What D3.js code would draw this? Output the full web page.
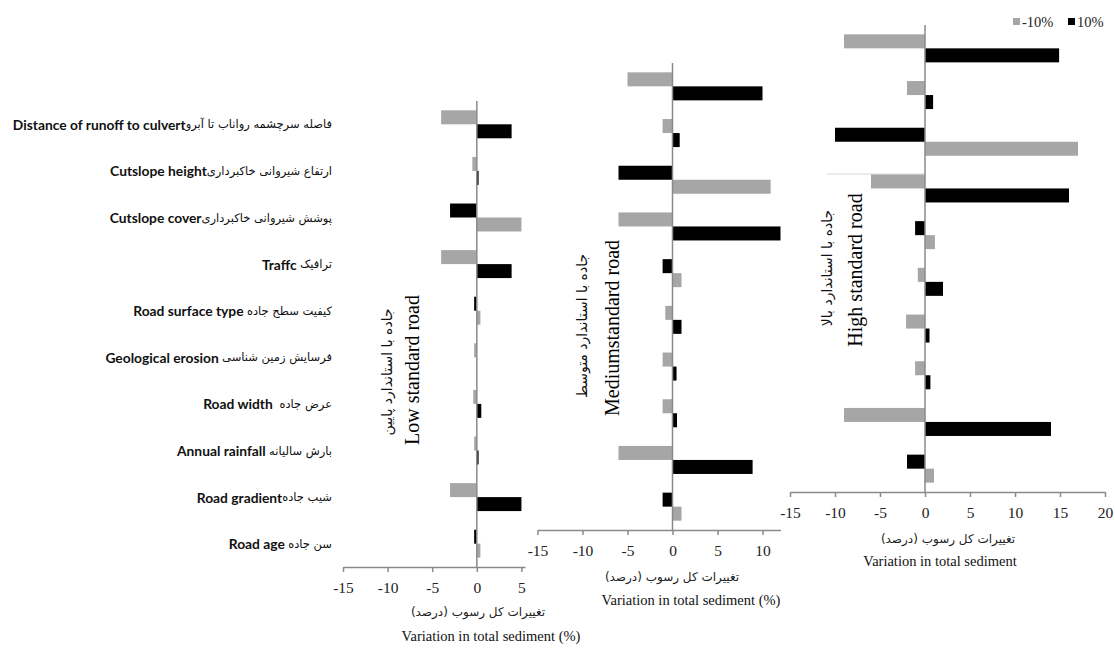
<!DOCTYPE html>
<html><head><meta charset="utf-8">
<script src="https://cdn.jsdelivr.net/npm/d3@7"></script>
<style>body{margin:0;background:#fff} svg{display:block}</style>
</head><body><svg id="c" width="1115" height="650"></svg>
<script>
// ---------- data ----------
const categoriesEn = ["Distance of runoff to culvert", "Cutslope height", "Cutslope cover", "Traffc",
  "Road surface type", "Geological erosion", "Road width", "Annual rainfall", "Road gradient", "Road age"];
const categoriesFa = ["فاصله سرچشمه رواناب تا آبرو", "ارتفاع شیروانی خاکبرداری", "پوشش شیروانی خاکبرداری", "ترافیک",
  "کیفیت سطح جاده", "فرسایش زمین شناسی", "عرض جاده", "بارش سالیانه", "شیب جاده", "سن جاده"];
const labelGap = ["", "", "", " ", " ", " ", "  ", " ", "", " "];
const seriesNames = ["-10%", "10%"];
const seriesColors = ["#a6a6a6", "#000000"];

const lowMinus10  = [-4, -0.5, 5, -4, 0.4, -0.3, -0.4, -0.3, -3, 0.4];
const lowPlus10   = [3.9, 0.2, -3, 3.9, -0.3, 0, 0.5, 0.2, 5, -0.3];
const midMinus10  = [-5, -1.1, 10.9, -6, 1, -0.8, -1.1, -1.1, -6, 1];
const midPlus10   = [10, 0.8, -6, 12, -1.1, 1, 0.45, 0.5, 8.9, -1.1];
const highMinus10 = [-9, -2, 17, -6, 1.1, -0.8, -2.1, -1.1, -9, 1];
const highPlus10  = [14.9, 0.9, -10, 16, -1.1, 2, 0.5, 0.6, 14, -2];

const xTicks = [-15, -10, -5, 0, 5, 10, 15, 20];

const titleFa = "تغییرات کل رسوب (درصد)";
const titleEnPct = "Variation in total sediment (%)";
const titleEn = "Variation in total sediment";
const roadFa = ["جاده با استاندارد پایین", "جاده با استاندارد متوسط", "جاده با استاندارد بالا"];
const roadEn = ["Low standard road", "Mediumstandard road", "High standard road"];

// ---------- layout ----------
const panels = [
  { neg: lowMinus10, pos: lowPlus10, domain: [-15, 5.4], xr: [343, 525], yr: [101, 567],
    fa: roadFa[0], en: roadEn[0], faPos: [387, 372], enPos: [412, 370],
    tFa: [478, 616], tEn: [491, 641], tEnText: titleEnPct, labels: true },
  { neg: midMinus10, pos: midPlus10, domain: [-15, 12], xr: [537.5, 780.5], yr: [63, 530],
    fa: roadFa[1], en: roadEn[1], faPos: [582, 326], enPos: [612, 328],
    tFa: [672, 581], tEn: [691, 605], tEnText: titleEnPct, labels: false },
  { neg: highMinus10, pos: highPlus10, domain: [-15, 20], xr: [790, 1105], yr: [25, 492],
    fa: roadFa[2], en: roadEn[2], faPos: [827, 268], enPos: [855, 270],
    tFa: [948, 543], tEn: [940, 566], tEnText: titleEn, labels: false }
];

const svg = d3.select("#c");
const axisColor = "#8a8a8a";

// faint box edge in right panel
svg.append("line").attr("x1", 827).attr("x2", 925).attr("y1", 174).attr("y2", 174)
  .attr("stroke", "#d8d8d8").attr("stroke-width", 1);

panels.forEach((p, pi) => {
  const x = d3.scaleLinear().domain(p.domain).range(p.xr);
  const y = d3.scaleBand().domain(categoriesEn).range(p.yr).paddingInner(0.4).paddingOuter(0.2);
  const sub = d3.scaleBand().domain([0, 1]).range([0, y.bandwidth()]);
  const g = svg.append("g");

  // bars
  const rows = [];
  categoriesEn.forEach((c, i) => {
    const vals = [p.neg[i], p.pos[i]];
    [0, 1].forEach(s => {
      const other = vals[1 - s];
      const rank = (vals[s] < other || (vals[s] === other && s === 0)) ? 0 : 1;
      rows.push({ c, s, v: vals[s], rank });
    });
  });
  g.selectAll("rect.bar").data(rows).join("rect").attr("class", "bar")
    .attr("x", d => x(Math.min(0, d.v)))
    .attr("width", d => Math.abs(x(d.v) - x(0)))
    .attr("y", d => y(d.c) + sub(d.rank))
    .attr("height", sub.bandwidth())
    .attr("fill", d => seriesColors[d.s]);

  // zero (category) line
  g.append("line").attr("x1", x(0)).attr("x2", x(0)).attr("y1", p.yr[0]).attr("y2", p.yr[1])
    .attr("stroke", axisColor).attr("stroke-width", 1.5);

  // x axis
  const ticks = xTicks.filter(t => t >= p.domain[0] && t <= p.domain[1]);
  const ax = g.append("g").attr("transform", `translate(0,${p.yr[1]})`)
    .call(d3.axisBottom(x).tickValues(ticks).tickSize(5).tickSizeOuter(0).tickPadding(10).tickFormat(d => String(d)));
  ax.select(".domain").attr("stroke", axisColor).attr("stroke-width", 1.5);
  ax.selectAll(".tick line").attr("stroke", axisColor).attr("stroke-width", 1.5);
  ax.selectAll(".tick text").attr("font-family", "Liberation Serif, serif").attr("font-size", 15.5).attr("fill", "#222");

  // axis titles
  g.append("text").attr("x", p.tFa[0]).attr("y", p.tFa[1]).attr("text-anchor", "middle")
    .attr("font-family", "DejaVu Sans, sans-serif").attr("font-size", 12).attr("fill", "#222").text(titleFa);
  g.append("text").attr("x", p.tEn[0]).attr("y", p.tEn[1]).attr("text-anchor", "middle")
    .attr("font-family", "Liberation Serif, serif").attr("font-size", 14.5).attr("fill", "#111").text(p.tEnText);

  // vertical road labels
  g.append("text").attr("transform", `translate(${p.faPos[0]},${p.faPos[1]}) rotate(-90)`)
    .attr("text-anchor", "middle").attr("dominant-baseline", "central")
    .attr("font-family", "DejaVu Sans, sans-serif").attr("font-size", 14).attr("fill", "#111").text(p.fa);
  g.append("text").attr("transform", `translate(${p.enPos[0]},${p.enPos[1]}) rotate(-90)`)
    .attr("text-anchor", "middle").attr("dominant-baseline", "central")
    .attr("font-family", "Liberation Serif, serif").attr("font-size", 20).attr("fill", "#000").text(p.en);

  // category labels
  if (p.labels) {
    categoriesEn.forEach((c, i) => {
      const cy = y(c) + y.bandwidth() / 2;
      const fa = g.append("text").attr("x", 332).attr("y", cy).attr("text-anchor", "end")
        .attr("dominant-baseline", "central")
        .attr("font-family", "DejaVu Sans, sans-serif").attr("font-size", 11.5).attr("fill", "#111")
        .text(categoriesFa[i]);
      const w = fa.node().getComputedTextLength();
      g.append("text").attr("x", 332 - w).attr("y", cy).attr("text-anchor", "end")
        .attr("dominant-baseline", "central").attr("xml:space", "preserve")
        .attr("font-family", "Lato, sans-serif").attr("font-weight", 700).attr("font-size", 13.8).attr("fill", "#111")
        .text(c + labelGap[i]);
    });
  }
});

// legend
const leg = svg.append("g");
const legX = [1013, 1068];
seriesNames.forEach((n, i) => {
  leg.append("rect").attr("x", legX[i]).attr("y", 18).attr("width", 7).attr("height", 7).attr("fill", seriesColors[i]);
  leg.append("text").attr("x", legX[i] + 9).attr("y", 22).attr("dominant-baseline", "central")
    .attr("font-family", "Liberation Serif, serif").attr("font-size", 14.5).attr("fill", "#222").text(n);
});
</script></body></html>
